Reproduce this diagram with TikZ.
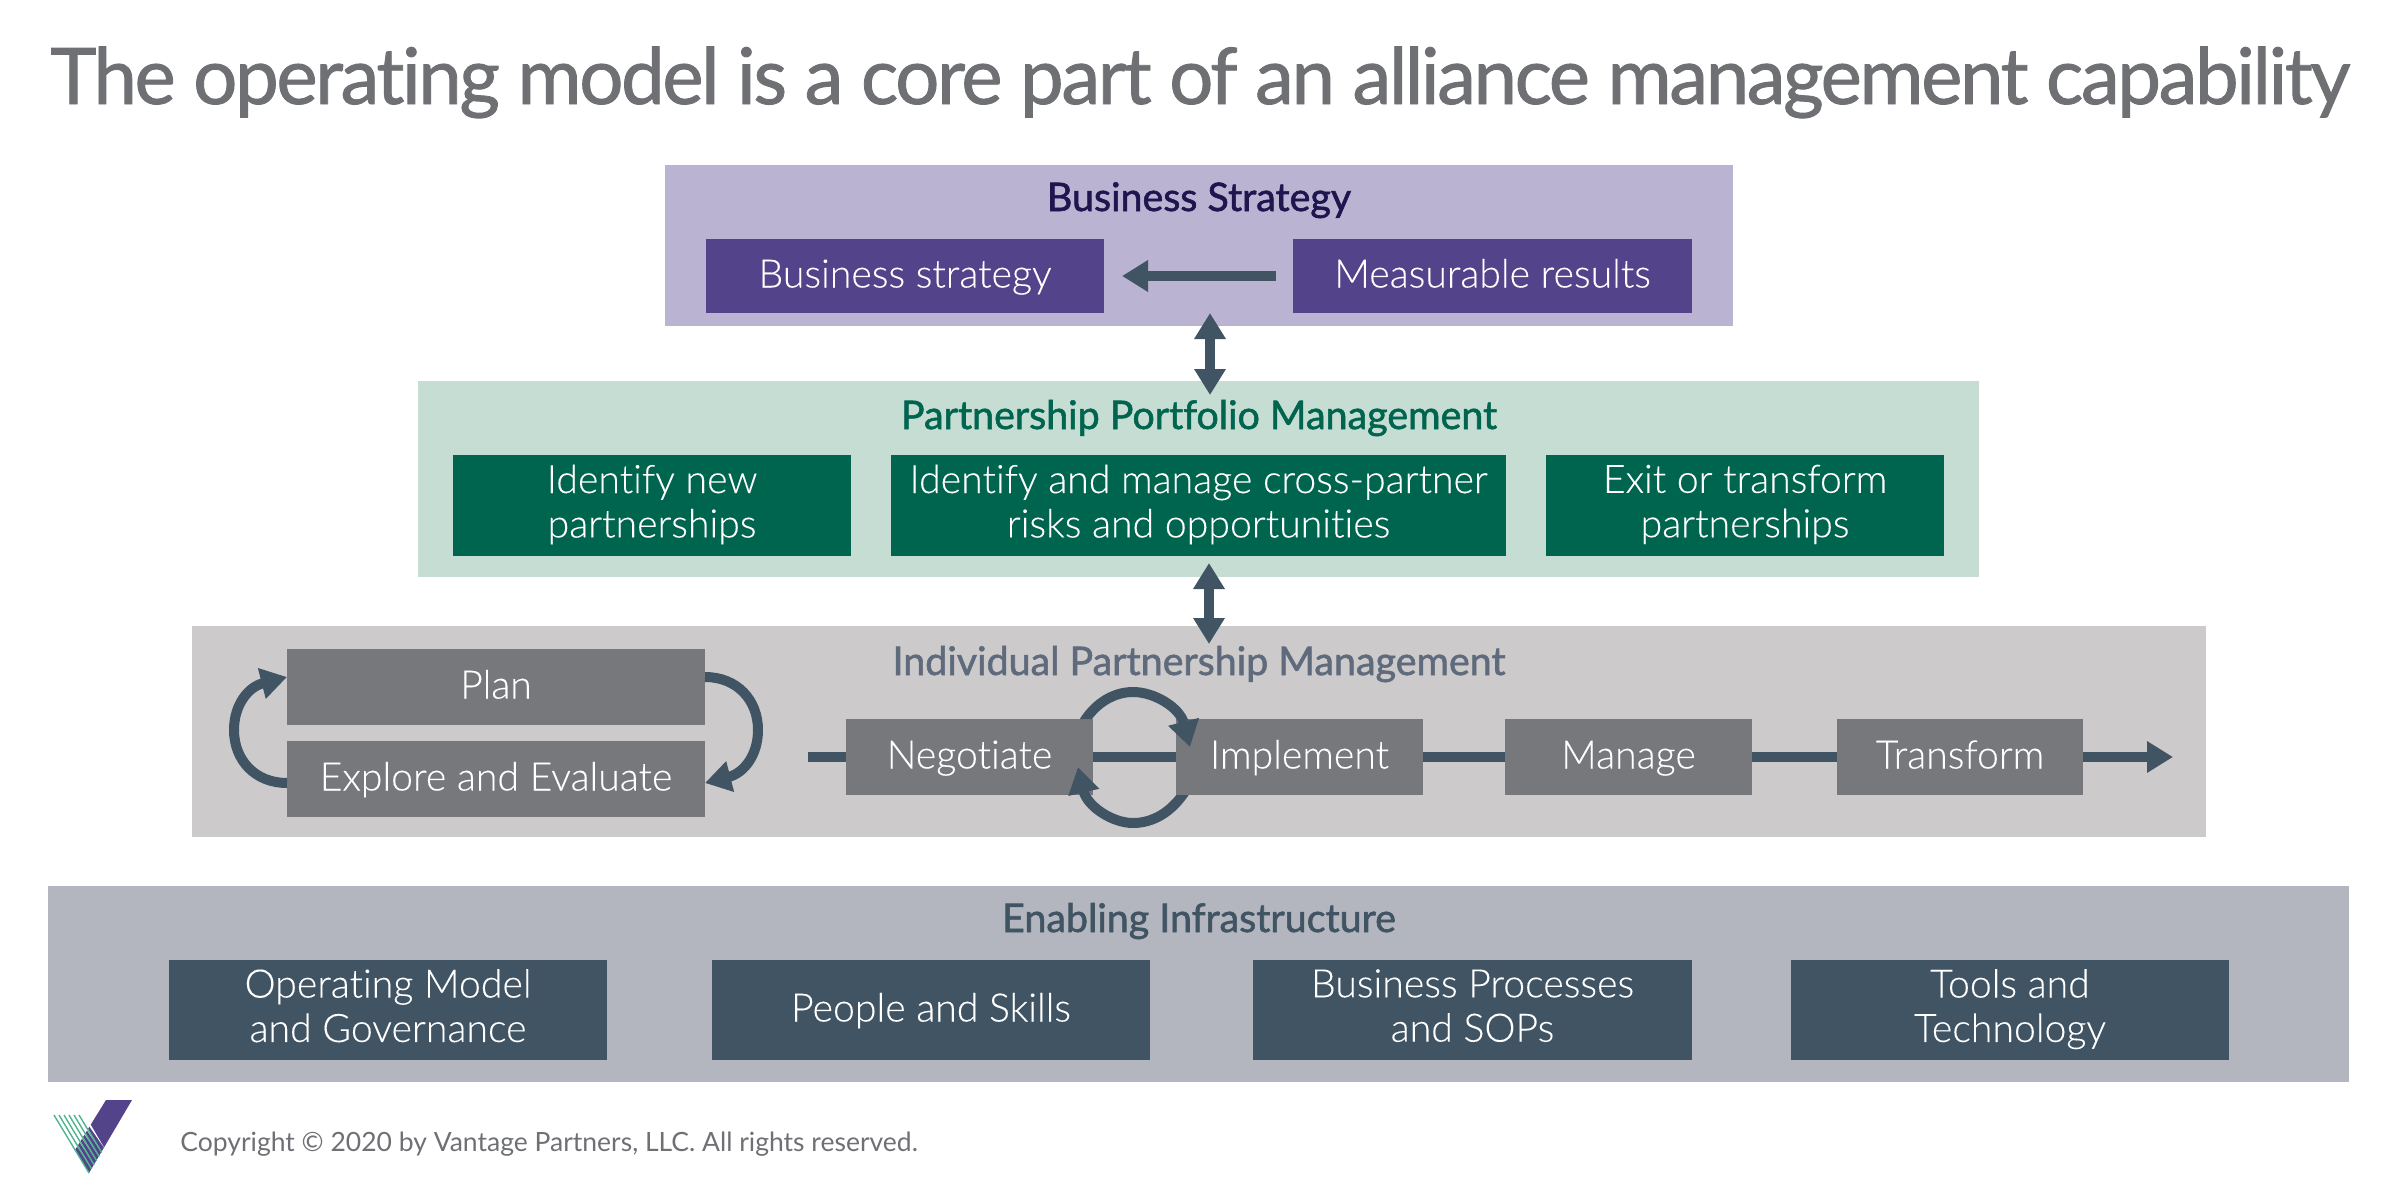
\documentclass[tikz,border=0pt]{standalone}
\usepackage{fontspec}
\setmainfont{Lato}[Ligatures=NoCommon]
\newfontfamily\boxfont{Lato Light}[Ligatures=NoCommon,FakeBold=0.15]
\newfontfamily\titlefont{Lato}[Ligatures=NoCommon,FakeBold=1.1,LetterSpace=-3.1]
\newfontfamily\headfont{Lato}[Ligatures=NoCommon,FakeBold=1.5]
\usetikzlibrary{arrows.meta,calc}
\definecolor{tcol}{HTML}{6F7074}
\definecolor{arrowc}{HTML}{415464}
\definecolor{pbg}{HTML}{BAB3D2}\definecolor{pbox}{HTML}{53438A}\definecolor{phead}{HTML}{1F1650}
\definecolor{gbg}{HTML}{C5DDD3}\definecolor{gbox}{HTML}{00654F}
\definecolor{kbg}{HTML}{CCCACB}\definecolor{kbox}{HTML}{77787C}\definecolor{khead}{HTML}{5F6B7C}
\definecolor{bbg}{HTML}{B3B6BE}\definecolor{bbox}{HTML}{415464}
\definecolor{lgreen}{HTML}{4FB58F}
\tikzset{
 panel/.style={draw=none,inner sep=0pt,outer sep=0pt,anchor=center},
 bx/.style={panel,text=white,align=center,font=\boxfont\fontsize{19.6}{22.2}\selectfont,
   execute at begin node={\rule{0pt}{16pt}},execute at end node={\rule[-4.5pt]{0pt}{4.5pt}}},
 head/.style={inner sep=0pt,outer sep=0pt,anchor=base,font=\headfont\fontsize{19.7}{22}\selectfont},
 flow/.style={draw=arrowc,line width=5pt},
 tip/.style={flow,-{Triangle[width=15pt,length=13pt]}},
 dbl/.style={flow,{Triangle[width=15pt,length=13pt]}-{Triangle[width=15pt,length=13pt]}},
}
% name, x1, y1, x2, y2, style options, text
\newcommand{\rbox}[7]{%
 \pgfmathsetmacro{\rcx}{(#2+#4)/2}\pgfmathsetmacro{\rcy}{(#3+#5)/2}%
 \pgfmathsetmacro{\rw}{(#4-#2)*0.5}\pgfmathsetmacro{\rh}{(#5-#3)*0.5}%
 \node[#6,minimum width=\rw pt,minimum height=\rh pt] (#1) at (\rcx,\rcy) {#7};}
\begin{document}
\begin{tikzpicture}[x=0.5pt,y=-0.5pt]
\useasboundingbox (0,0) rectangle (2400,1200);
\node[inner sep=0pt,anchor=base west,text=tcol,font=\titlefont\fontsize{39}{42}\selectfont] (title) at (50,104) {The operating model is a core part of an alliance management capability};
% panels
\rbox{pbiz}{665}{165}{1733}{326}{panel,fill=pbg}{}
\rbox{pgreen}{418}{381}{1979}{577}{panel,fill=gbg}{}
\rbox{pgrey}{192}{626}{2206}{837}{panel,fill=kbg}{}
\rbox{pblue}{48}{886}{2349}{1082}{panel,fill=bbg}{}
% headings
\node[head,text=phead] (hbiz) at (1199,211) {Business Strategy};
\node[head,text=gbox] (hgreen) at (1199,429) {Partnership Portfolio Management};
\node[head,text=khead] (hgrey) at (1199,675) {Individual Partnership Management};
\node[head,text=bbox] (hblue) at (1199,932) {Enabling Infrastructure};
% purple boxes
\rbox{bstrat}{706}{239}{1104}{313}{bx,fill=pbox}{Business strategy}
\rbox{mres}{1293}{239}{1692}{313}{bx,fill=pbox}{Measurable results}
% green boxes
\rbox{gnew}{453}{455}{851}{556}{bx,fill=gbox}{Identify new\\partnerships}
\rbox{gcross}{891}{455}{1506}{556}{bx,fill=gbox}{Identify and manage cross-partner\\risks and opportunities}
\rbox{gexit}{1546}{455}{1944}{556}{bx,fill=gbox}{Exit or transform\\partnerships}
% process line beneath the boxes
\coordinate (lstart) at (808,757);
\coordinate (lend) at (2173,757);
% grey boxes
\rbox{plan}{287}{649}{705}{725}{bx,fill=kbox}{Plan}
\rbox{expl}{287}{741}{705}{817}{bx,fill=kbox}{Explore and Evaluate}
\rbox{neg}{846}{719}{1093}{795}{bx,fill=kbox}{Negotiate}
\rbox{impl}{1176}{719}{1423}{795}{bx,fill=kbox}{Implement}
\rbox{mng}{1505}{719}{1752}{795}{bx,fill=kbox}{Manage}
\rbox{trans}{1837}{719}{2083}{795}{bx,fill=kbox}{Transform}
% blue boxes
\rbox{omg}{169}{960}{607}{1060}{bx,fill=bbox}{Operating Model\\and Governance}
\rbox{people}{712}{960}{1150}{1060}{bx,fill=bbox}{People and Skills}
\rbox{bpsop}{1253}{960}{1692}{1060}{bx,fill=bbox}{Business Processes\\and SOPs}
\rbox{tools}{1791}{960}{2229}{1060}{bx,fill=bbox}{Tools and\\Technology}
% connectors
\draw[tip] ([xshift=-8.5pt]mres.west) -- ([xshift=9pt]bstrat.east);
\draw[dbl] ([xshift=5.5pt,yshift=6.5pt]pbiz.south) -- ([xshift=5.75pt,yshift=-7pt]pgreen.north);
\draw[dbl] ([xshift=5.25pt,yshift=7pt]pgreen.south) -- ([xshift=5pt,yshift=-9pt]pgrey.north);
\draw[flow] (lstart) -- (neg.west);
\draw[flow] (neg.east) -- (impl.west);
\draw[flow] (impl.east) -- (mng.west);
\draw[flow] (mng.east) -- (trans.west);
\draw[tip] (trans.east) -- (lend);
\draw[tip] ([yshift=5pt]plan.east) .. controls (737,677) and (758,700) .. (758,730) .. controls (758,755) and (744,773) .. ([yshift=-2pt]expl.east);
\draw[tip] ([yshift=-2pt]expl.west) .. controls (255,783) and (234,760) .. (234,730) .. controls (234,705) and (248,687) .. ([yshift=5pt]plan.west);
\begin{scope}
\clip (1000,600) -- (1300,600) -- (1300,780) -- (1093,780) -- (1093,719) -- (1000,719) -- cycle;
\draw[tip] ([shift={(-5.5pt,-3pt)}]neg.north east) .. controls (1095,702) and (1115,692) .. (1133,692) .. controls (1155,692) and (1180,708) .. ([shift={(7pt,5pt)}]impl.west);
\end{scope}
\begin{scope}
\clip (1000,700) -- (1176,700) -- (1176,795) -- (1300,795) -- (1300,900) -- (1000,900) -- cycle;
\draw[tip] ([shift={(5pt,2.5pt)}]impl.south west) .. controls (1172,812) and (1153,823) .. (1133,823) .. controls (1112,823) and (1087,806) .. ([shift={(-7.5pt,-5pt)}]neg.east);
\end{scope}
% logo
\fill[pbox] (106,1100) -- (132,1100) -- (89,1173) -- (75,1150) -- cycle;
\foreach \i in {0,...,5}{
 \fill[white] ({56.5+5*\i},1115) -- ({60+5*\i},1115) -- ({91.5+2.54*\i+1},{1173-4.1*\i-3}) -- ({91.5+2.54*\i-1},{1173-4.1*\i-6}) -- cycle;
 \draw[lgreen,line width=0.7pt] ({54+5*\i},1115) -- ({89+2.54*\i},{1173-4.1*\i});
}
\node[inner sep=0pt,anchor=base west,text=tcol,font=\fontsize{13.25}{15}\selectfont] (copy) at (180,1151) {Copyright © 2020 by Vantage Partners, LLC. All rights reserved.};
\end{tikzpicture}
\end{document}
